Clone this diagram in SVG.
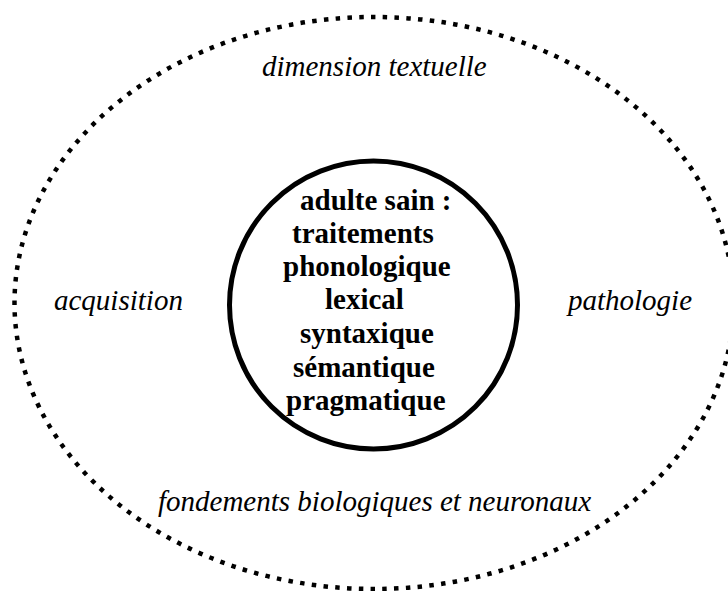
<svg xmlns="http://www.w3.org/2000/svg" width="728" height="591" viewBox="0 0 728 591">
<style>
.outer{fill:none;stroke:#000;stroke-width:4.5;stroke-dasharray:4.5 7.3}
.inner{fill:#fff;stroke:#000;stroke-width:5}
.it{font-family:"Liberation Serif","Times New Roman",serif;font-style:italic;font-size:29px;fill:#000}
.bd{font-family:"Liberation Serif","Times New Roman",serif;font-weight:bold;font-size:29px;fill:#000}
</style>
<rect width="728" height="591" fill="#fff"/>
<g id="outer-ellipse">
<ellipse class="outer" cx="374" cy="303" rx="359.5" ry="286"/>
</g>
<g id="outer-labels">
<text class="it" x="262" y="76">dimension textuelle</text>
<text class="it" x="54" y="310">acquisition</text>
<text class="it" x="568" y="310">pathologie</text>
<text class="it" x="158" y="511">fondements biologiques et neuronaux</text>
</g>
<g id="inner-node">
<circle class="inner" cx="373.5" cy="305" r="144"/>
<text class="bd" x="300" y="210">adulte sain :</text>
<text class="bd" x="292" y="243">traitements</text>
<text class="bd" x="283" y="276">phonologique</text>
<text class="bd" x="325" y="309">lexical</text>
<text class="bd" x="300" y="343">syntaxique</text>
<text class="bd" x="293" y="377">sémantique</text>
<text class="bd" x="286" y="410">pragmatique</text>
</g>
</svg>
